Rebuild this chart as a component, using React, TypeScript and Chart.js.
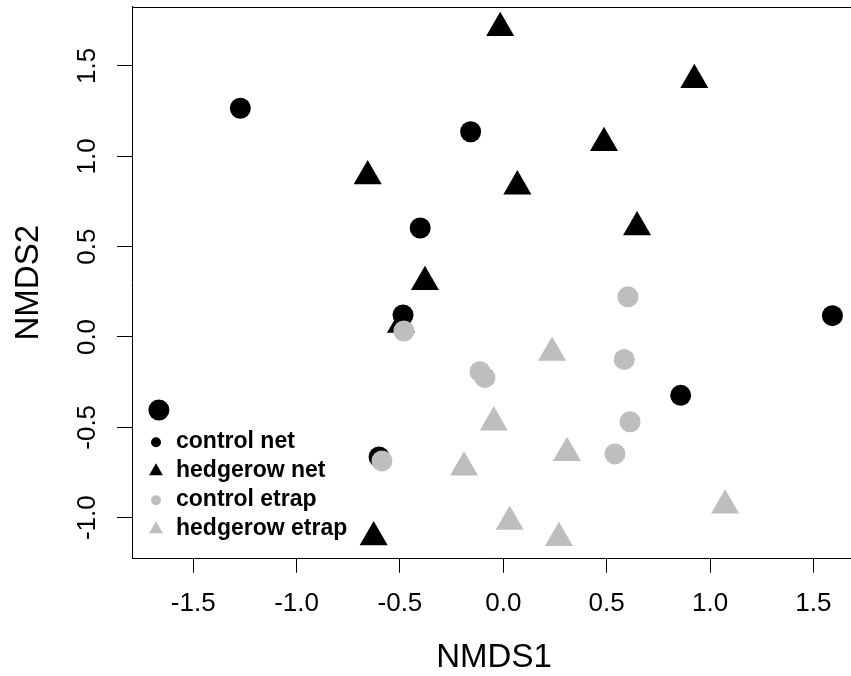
import React, { useEffect, useRef } from "react";
import { Chart, registerables } from "chart.js";

Chart.register(...registerables);

// ---- data ----
const controlNetX = [-1.666, -1.272, -0.158, -0.402, -0.485, 1.592, 0.858, -0.601];
const controlNetY = [-0.404, 1.266, 1.136, 0.603, 0.122, 0.118, -0.323, -0.664];

const hedgerowNetX = [-0.015, 0.924, 0.487, 0.068, 0.647, -0.656, -0.379, -0.495, -0.627];
const hedgerowNetY = [1.711, 1.423, 1.074, 0.834, 0.608, 0.89, 0.305, 0.068, -1.108];

const controlEtrapX = [-0.481, -0.113, -0.089, 0.585, 0.613, 0.54, 0.603, -0.587];
const controlEtrapY = [0.033, -0.192, -0.225, -0.124, -0.469, -0.647, 0.223, -0.686];

const hedgerowEtrapX = [0.236, -0.046, 0.308, -0.19, 1.073, 0.031, 0.269];
const hedgerowEtrapY = [-0.087, -0.472, -0.642, -0.722, -0.932, -1.022, -1.112];

const xTicks = [-1.5, -1.0, -0.5, 0.0, 0.5, 1.0, 1.5];
const yTicks = [-1.0, -0.5, 0.0, 0.5, 1.0, 1.5];

const seriesNames = ["control net", "hedgerow net", "control etrap", "hedgerow etrap"];
const xTitle = "NMDS1";
const yTitle = "NMDS2";

// ---- styles ----
const BLACK = "#000000";
const GRAY = "#bebebe";
const AX_FONT = "'Liberation Sans', Arial, sans-serif";
const LEG_FONT = "'Liberation Sans', Arial, sans-serif";

const W = 851; // visible picture
const H = 676;
const CANVAS_W = 856; // plot region runs a little past the right edge of the picture

const toPoints = (xs: number[], ys: number[]) => xs.map((x, i) => ({ x, y: ys[i] }));

const zeroPadding = (scale: any) => {
  scale.paddingTop = 0;
  scale.paddingBottom = 0;
  scale.paddingLeft = 0;
  scale.paddingRight = 0;
};

const framePlugin = {
  id: "frameAndLegend",
  afterDraw(chart: any) {
    const { ctx, chartArea } = chart;
    ctx.save();
    // top border of the box (right border lies outside the picture)
    ctx.strokeStyle = BLACK;
    ctx.lineWidth = 1;
    ctx.beginPath();
    const ty = Math.round(chartArea.top) + 0.5;
    ctx.moveTo(chartArea.left, ty);
    ctx.lineTo(chartArea.right, ty);
    ctx.stroke();

    // legend (no box), bottom-left inside the plot
    const symX = chartArea.left + 24;
    const textX = chartArea.left + 44;
    const firstRow = chartArea.bottom - 117.5;
    const rowGap = 29;
    const colors = [BLACK, BLACK, GRAY, GRAY];
    const shapes = ["circle", "triangle", "circle", "triangle"];
    ctx.font = `bold 23px ${LEG_FONT}`;
    ctx.textBaseline = "middle";
    ctx.textAlign = "left";
    seriesNames.forEach((name, i) => {
      const y = firstRow + i * rowGap;
      ctx.fillStyle = colors[i];
      ctx.beginPath();
      if (shapes[i] === "circle") {
        ctx.arc(symX, y + 1, 5, 0, Math.PI * 2);
      } else {
        const r = 8;
        ctx.moveTo(symX, y + 1 - r);
        ctx.lineTo(symX + r * Math.sin((2 * Math.PI) / 3), y + 1 + r / 2);
        ctx.lineTo(symX - r * Math.sin((2 * Math.PI) / 3), y + 1 + r / 2);
        ctx.closePath();
      }
      ctx.fill();
      ctx.fillStyle = BLACK;
      ctx.fillText(name, textX, y);
    });
    ctx.restore();
  },
};

export default function App() {
  const canvasRef = useRef<HTMLCanvasElement | null>(null);

  useEffect(() => {
    const canvas = canvasRef.current;
    if (!canvas) return;
    const chart = new Chart(canvas, {
      type: "scatter",
      data: {
        datasets: [
          {
            label: seriesNames[0],
            data: toPoints(controlNetX, controlNetY),
            pointStyle: "circle",
            pointRadius: 10.5,
            pointBorderWidth: 0,
            backgroundColor: BLACK,
            borderColor: BLACK,
            order: 2,
          },
          {
            label: seriesNames[1],
            data: toPoints(hedgerowNetX, hedgerowNetY),
            pointStyle: "triangle",
            pointRadius: 16.2,
            pointBorderWidth: 0,
            backgroundColor: BLACK,
            borderColor: BLACK,
            order: 3,
          },
          {
            label: seriesNames[2],
            data: toPoints(controlEtrapX, controlEtrapY),
            pointStyle: "circle",
            pointRadius: 10.5,
            pointBorderWidth: 0,
            backgroundColor: GRAY,
            borderColor: GRAY,
            order: 0,
          },
          {
            label: seriesNames[3],
            data: toPoints(hedgerowEtrapX, hedgerowEtrapY),
            pointStyle: "triangle",
            pointRadius: 16.2,
            pointBorderWidth: 0,
            backgroundColor: GRAY,
            borderColor: GRAY,
            order: 1,
          },
        ],
      },
      options: {
        responsive: false,
        animation: false,
        devicePixelRatio: 1,
        layout: { autoPadding: false, padding: { top: 6.7, left: 0, right: 0, bottom: 0 } },
        plugins: {
          legend: { display: false },
          tooltip: { enabled: false },
        },
        scales: {
          x: {
            type: "linear",
            position: "bottom",
            min: -1.796,
            max: 1.706,
            afterBuildTicks: (scale: any) => {
              scale.ticks = xTicks.map((v) => ({ value: v }));
            },
            afterFit: (scale: any) => {
              scale.height = H - 558.7;
              zeroPadding(scale);
            },
            grid: {
              display: true,
              drawOnChartArea: false,
              drawTicks: true,
              tickLength: 14,
              tickColor: BLACK,
              tickWidth: 1,
            },
            border: { display: true, color: BLACK, width: 1 },
            ticks: {
              color: BLACK,
              padding: 15.5,
              maxRotation: 0,
              autoSkip: false,
              font: { family: AX_FONT, size: 26, lineHeight: 1.2 },
              callback: (v: any) => Number(v).toFixed(1),
            },
            title: {
              display: true,
              text: xTitle,
              color: BLACK,
              font: { family: AX_FONT, size: 33, lineHeight: 0.9 },
              padding: { top: 0, bottom: 3.6 },
            },
          },
          y: {
            type: "linear",
            position: "left",
            min: -1.227,
            max: 1.828,
            afterBuildTicks: (scale: any) => {
              scale.ticks = yTicks.map((v) => ({ value: v }));
            },
            afterFit: (scale: any) => {
              scale.width = 132;
              zeroPadding(scale);
            },
            grid: {
              display: true,
              drawOnChartArea: false,
              drawTicks: true,
              tickLength: 15,
              tickColor: BLACK,
              tickWidth: 1,
            },
            border: { display: true, color: BLACK, width: 1 },
            ticks: {
              color: BLACK,
              padding: 6.6,
              minRotation: 90,
              maxRotation: 90,
              crossAlign: "center",
              autoSkip: false,
              font: { family: AX_FONT, size: 26, lineHeight: 1.2 },
              callback: (v: any) => Number(v).toFixed(1),
            },
            title: {
              display: true,
              text: yTitle,
              color: BLACK,
              font: { family: AX_FONT, size: 33, lineHeight: 0.9 },
              padding: { top: 14, bottom: 0 },
            },
          },
        },
      },
      plugins: [framePlugin],
    } as any);
    return () => chart.destroy();
  }, []);

  return (
    <div
      style={{
        position: "absolute",
        left: 0,
        top: 0,
        width: W,
        height: H,
        overflow: "hidden",
        background: "#ffffff",
      }}
    >
      <canvas ref={canvasRef} width={CANVAS_W} height={H} style={{ display: "block" }} />
    </div>
  );
}
